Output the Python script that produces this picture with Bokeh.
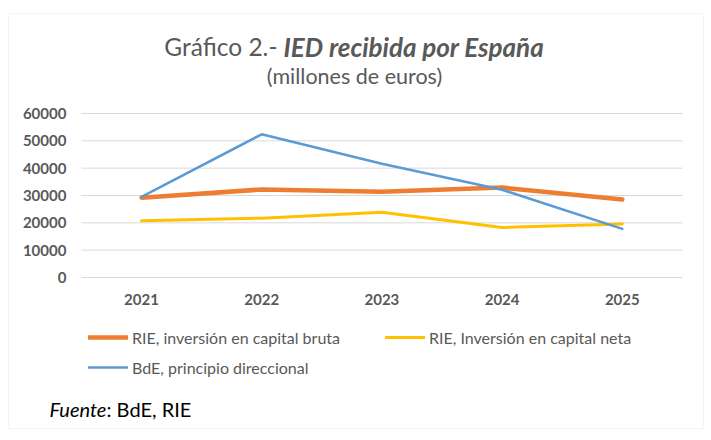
from bokeh.plotting import figure
from bokeh.models import (Range1d, FixedTicker, NumeralTickFormatter,
                          Label, Legend, LegendItem, BoxAnnotation)
from bokeh.embed import file_html
from bokeh.resources import INLINE

years = [2021, 2022, 2023, 2024, 2025]
bruta = [29200, 32200, 31400, 32900, 28500]
neta = [20800, 21700, 23900, 18300, 19600]
bde = [29500, 52400, 41600, 32100, 17800]
yticks = [0, 10000, 20000, 30000, 40000, 50000, 60000]

names = ["RIE, inversión en capital bruta", "RIE, Inversión en capital neta",
         "BdE, principio direccional"]
colors = ["#ED7D31", "#FFC000", "#5B9BD5"]
widths = [4.5, 3, 2.5]

FONT = "Lato"
GREY = "#595959"
W, H = 711, 440

# plot area geometry (canvas px): x from 81 to 682, y 0 at 277, 60000 at 113
PX_PER_YEAR = (682 - 81) / 5.0
X0_PX = 141.0          # pixel of first year
Y0_PX, YTOP_PX = 277.0, 113.0
UNITS_PER_PX = 60000 / (Y0_PX - YTOP_PX)

x_start = years[0] - X0_PX / PX_PER_YEAR
x_end = x_start + W / PX_PER_YEAR
y_end = Y0_PX * UNITS_PER_PX
y_start = -(H - Y0_PX) * UNITS_PER_PX

p = figure(width=W, height=H, x_range=Range1d(x_start, x_end),
           y_range=Range1d(y_start, y_end), output_backend="svg",
           toolbar_location=None, min_border=0,
           min_border_left=0, min_border_right=0, min_border_top=0,
           min_border_bottom=0)
p.outline_line_color = None
p.background_fill_color = "white"
p.border_fill_color = "white"
p.xgrid.visible = False
p.ygrid.visible = False

x_lo = years[0] - 0.5
x_hi = years[-1] + 0.5

# horizontal gridlines at the y ticks, across the plot area only
p.segment(x0=x_lo, x1=x_hi, y0=yticks, y1=yticks, line_color="#d9d9d9", line_width=1)

xa = p.xaxis[0]
ya = p.yaxis[0]
xa.ticker = FixedTicker(ticks=years)
ya.ticker = FixedTicker(ticks=yticks)
xa.formatter = NumeralTickFormatter(format="0")
ya.formatter = NumeralTickFormatter(format="0")
xa.fixed_location = 0
ya.fixed_location = x_lo
for ax in (xa, ya):
    ax.axis_line_color = None
    ax.major_tick_line_color = None
    ax.minor_tick_line_color = None
    ax.major_tick_out = 0
    ax.major_tick_in = 0
    ax.minor_tick_out = 0
    ax.minor_tick_in = 0
    ax.major_label_text_font = FONT
    ax.major_label_text_font_style = "bold"
    ax.major_label_text_font_size = "15px"
    ax.major_label_text_color = GREY
ya.major_label_standoff = 15
xa.major_label_standoff = 16

rends = []
for vals, c, w in zip([bruta, neta, bde], colors, widths):
    r = p.line(years, vals, line_color=c, line_width=w, line_cap="round",
               line_join="round")
    rends.append(r)

def sx(X):
    return X

def sy(Y):
    return H - Y

# legends (one per entry, placed like the reference)
leg_pos = [(88, 337), (385, 337), (88, 367)]
for r, name, (lx, ly) in zip(rends, names, leg_pos):
    lg = Legend(items=[LegendItem(label=name, renderers=[r])],
                location=(sx(lx), sy(ly + 10)), orientation="horizontal",
                padding=0, margin=0, border_line_color=None,
                background_fill_alpha=0, glyph_width=40, glyph_height=20,
                label_height=20, label_standoff=4,
                label_text_font=FONT, label_text_font_size="16px",
                label_text_color=GREY)
    p.add_layout(lg)

# outer light border
box = BoxAnnotation(left=sx(8), right=sx(703), top=sy(13), bottom=sy(428),
                    left_units="screen", right_units="screen",
                    top_units="screen", bottom_units="screen",
                    fill_alpha=0, line_color="#d9d9d9", line_width=1)
p.add_layout(box)

def lab(text, X, Y, size, align="left", style="normal", color=GREY):
    p.add_layout(Label(x=sx(X), y=sy(Y), x_units="screen", y_units="screen",
                       text=text, text_font=FONT, text_font_size=size,
                       text_font_style=style, text_color=color,
                       text_align=align, text_baseline="middle"))

lab("Gráfico 2.-", 277, 46, "24.5px", align="right")
lab("IED recibida por España", 283, 46, "26px", style="bold italic")
lab("(millones de euros)", 354, 75, "21.5px", align="center")
lab("Fuente", 49, 408, "20px", style="italic", color="#000000")
lab(": BdE, RIE", 106, 408, "20px", color="#000000")

open("out.html", "w").write(file_html(p, INLINE))
